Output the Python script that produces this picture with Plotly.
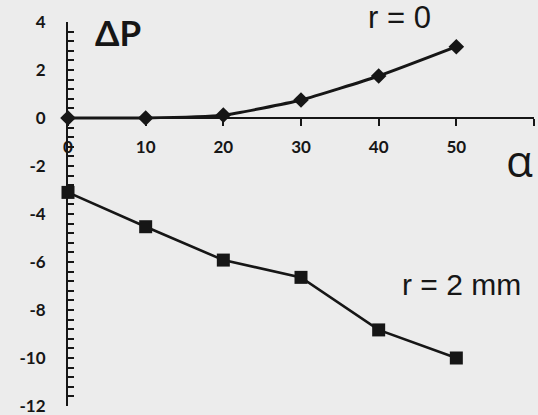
import plotly.graph_objects as go

alpha = [0, 10, 20, 30, 40, 50]
dp_r0 = [0, 0, 0.12, 0.75, 1.75, 2.97]
dp_r2 = [-3.1, -4.53, -5.92, -6.64, -8.83, -10.0]
x_ticks = [0, 10, 20, 30, 40, 50, 60]
x_ticktext = ["0", "10", "20", "30", "40", "50", ""]
y_ticks = [4, 2, 0, -2, -4, -6, -8, -10, -12]
y_ticktext = ["4", "2", "0", "-2", "-4", "-6", "-8", "-10", "-12"]

ink = "#161616"
bg = "#ececec"

L, R, T, B = 68, 4, 22, 9
W, H = 538, 415
pw, ph = W - L - R, H - T - B


def px(xp):
    return (xp - L) / pw


def py(yp):
    return (H - B - yp) / ph


fig = go.Figure()
fig.add_trace(go.Scatter(
    x=alpha, y=dp_r0, mode="lines+markers",
    line=dict(color=ink, width=3, shape="spline", smoothing=0.5),
    marker=dict(symbol="diamond", size=12, color=ink),
    cliponaxis=False, showlegend=False))
fig.add_trace(go.Scatter(
    x=alpha, y=dp_r2, mode="lines+markers",
    line=dict(color=ink, width=2.6),
    marker=dict(symbol="square", size=13, color=ink),
    cliponaxis=False, showlegend=False))

fig.update_layout(
    width=W, height=H,
    margin=dict(l=L, r=R, t=T, b=B),
    paper_bgcolor=bg, plot_bgcolor=bg,
    font=dict(family="Lato", color=ink),
    xaxis=dict(range=[0, 60], tickvals=x_ticks, ticktext=x_ticktext,
               showgrid=False, zeroline=False, showline=True, automargin=False,
               linecolor=ink, linewidth=2, ticks="outside", ticklen=7,
               tickwidth=2, tickcolor=ink, anchor="free", position=0.75,
               ticklabelstandoff=7,
               tickfont=dict(size=17, family="Lato", weight=700, color=ink)),
    yaxis=dict(range=[-12, 4], tickvals=y_ticks, ticktext=y_ticktext, domain=[0, 1],
               showgrid=False, zeroline=False, showline=True, automargin=False,
               linecolor=ink, linewidth=2, ticks="inside", ticklen=6,
               tickwidth=2, tickcolor=ink, ticklabelstandoff=17,
               ticklabeloverflow="allow",
               minor=dict(dtick=0.4, ticks="inside", ticklen=6,
                          tickwidth=1.5, tickcolor=ink),
               tickfont=dict(size=17, family="Lato", weight=700, color=ink)),
)

fig.add_annotation(xref="paper", yref="paper", x=px(118), y=py(32),
                   xanchor="center", yanchor="middle",
                   text="ΔP", showarrow=False,
                   font=dict(size=35, family="Lato", weight=700, color=ink))
fig.add_annotation(xref="paper", yref="paper", x=px(399), y=py(17),
                   xanchor="center", yanchor="middle",
                   text="r = 0", showarrow=False,
                   font=dict(size=31, family="Liberation Sans", color=ink))
fig.add_annotation(xref="paper", yref="paper", x=px(461), y=py(284),
                   xanchor="center", yanchor="middle",
                   text="r = 2 mm", showarrow=False,
                   font=dict(size=30, family="Liberation Sans", color=ink))
fig.add_annotation(xref="paper", yref="paper", x=px(519), y=py(160),
                   xanchor="center", yanchor="middle",
                   text="α", showarrow=False,
                   font=dict(size=44, family="Open Sans", color=ink))

fig.write_html("out.html",
               config={"displayModeBar": False},
               post_script="document.body.style.margin='0';"
                           "document.body.style.background='" + bg + "';")
